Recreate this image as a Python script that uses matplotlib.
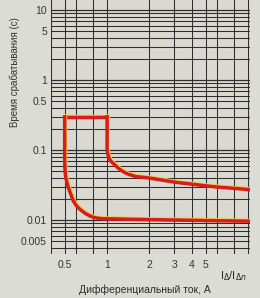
import matplotlib
matplotlib.use("Agg")
import matplotlib.pyplot as plt
import matplotlib.patheffects as pe
import numpy as np

# ---- data ----
x_grid = [0.4, 0.5, 0.6, 0.8, 1, 2, 3, 4, 5, 6, 8, 10]
x_ticks = [0.5, 1, 2, 3, 4, 5]
x_ticklabels = ["0.5", "1", "2", "3", "4", "5"]
y_ticks = [10, 5, 1, 0.5, 0.1, 0.01, 0.005]
y_ticklabels = ["10", "5", "1", "0.5", "0.1", "0.01", "0.005"]

# upper limit of the "box" (max break time, s)
top_x = [1.0, 0.5]
top_t = [0.3, 0.3]
# lower (fast) curve: left branch + flat part
low_x = [0.5, 0.5, 0.5, 0.503, 0.51, 0.52, 0.535, 0.555, 0.575, 0.60, 0.63, 0.66, 0.70, 0.75, 0.80, 0.86, 0.93, 1.0, 2.0, 5.0, 10.3]
low_t = [0.3, 0.1, 0.07, 0.05, 0.04, 0.034, 0.028, 0.023, 0.019, 0.0165, 0.0148, 0.0137, 0.0125, 0.0116, 0.0110, 0.0107, 0.0105, 0.0105, 0.0102, 0.0099, 0.0097]
# upper (slow) curve: right branch
up_x = [1.0, 1.0, 1.0, 1.01, 1.03, 1.06, 1.12, 1.18, 1.25, 1.33, 1.43, 1.6, 2.0, 3.0, 4.0, 5.0, 6.0, 8.0, 10.3]
up_t = [0.3, 0.15, 0.1, 0.088, 0.078, 0.070, 0.063, 0.057, 0.052, 0.048, 0.045, 0.042, 0.040, 0.035, 0.0327, 0.031, 0.0298, 0.0285, 0.0273]

W, H = 260, 298
fig = plt.figure(figsize=(W / 100, H / 100), dpi=100)
fig.patch.set_facecolor("#dcdcd6")

left, right = 51 / W, 249.8 / W
bottom, top = (H - 254) / H, 1.0
ax = fig.add_axes([left, bottom, right - left, top - bottom])
ax.set_facecolor("#d9d9d2")
ax.set_xscale("log")
ax.set_yscale("log")
ax.set_xlim(0.4, 10.3)
ax.set_ylim(0.0033, 13.9)

for s in ax.spines.values():
    s.set_visible(False)

gc = "#2e2e2e"
for xv in x_grid:
    ax.axvline(xv, color=gc, lw=0.75, zorder=1)
# horizontal log grid
for dec in [0.001, 0.01, 0.1, 1, 10]:
    for m in range(1, 10):
        v = dec * m
        if 0.0035 < v < 13.9:
            ax.axhline(v, color=gc, lw=0.75 if m != 1 else 0.9, zorder=1)

ax.set_xticks(x_ticks)
ax.set_xticklabels(x_ticklabels)
ax.set_yticks(y_ticks)
ax.set_yticklabels(y_ticklabels)
ax.xaxis.set_minor_locator(matplotlib.ticker.NullLocator())
ax.yaxis.set_minor_locator(matplotlib.ticker.NullLocator())
ax.tick_params(axis="both", length=0, labelsize=7.5, labelcolor="#333333")
ax.tick_params(axis="y", pad=3)
ax.tick_params(axis="x", pad=4)
for lab in ax.get_xticklabels() + ax.get_yticklabels():
    lab.set_family("Liberation Sans")

red = "#d81c1c"
effects = [pe.SimpleLineShadow(offset=(0.6, 0.6), shadow_color="#f2c83a", alpha=1.0),
           pe.Normal()]
ax.plot(top_x, top_t, color=red, lw=2.5, solid_joinstyle="miter", path_effects=effects, zorder=3)
ax.plot(low_x, low_t, color=red, lw=2.5, solid_joinstyle="round", path_effects=effects, zorder=3)
ax.plot(up_x, up_t, color=red, lw=2.5, solid_joinstyle="round", path_effects=effects, zorder=3)

fig.text(15 / W, 1 - 72 / H, "Время срабатывания (с)", rotation=90, ha="center", va="center",
         fontsize=7, color="#333333", family="Liberation Sans")
fig.text(145 / W, 1 - 290 / H, "Дифференциальный ток, А", ha="center", va="center",
         fontsize=7.5, color="#2a2a2a", family="Liberation Sans")
fig.text(233 / W, 1 - 276 / H, r"I$_{\Delta}$/I$_{\Delta n}$", ha="center", va="center",
         fontsize=8, color="#2a2a2a", family="Liberation Sans")

fig.savefig("out.png", dpi=100, facecolor=fig.get_facecolor())
